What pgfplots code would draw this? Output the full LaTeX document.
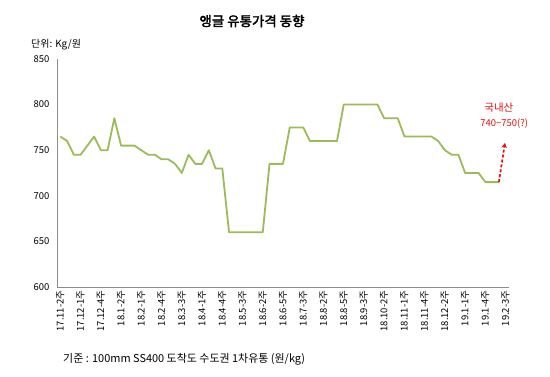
\documentclass[border=0pt]{standalone}
\usepackage{fontspec}
\setmainfont{Noto Sans CJK KR}
\newfontfamily\titlefont{Noto Sans CJK KR}[FakeBold=2.5]
\usepackage{pgfplots}
\pgfplotsset{compat=1.18}
\usepackage{pgfplotstable}
\usetikzlibrary{arrows.meta}
\definecolor{linegreen}{HTML}{9BBB59}
\definecolor{axgray}{HTML}{8C8C8C}
\definecolor{annred}{HTML}{E01010}
\pgfplotstableread{
x y
0 765
1 760
2 745
3 745
4 755
5 765
6 750
7 750
8 785
9 755
10 755
11 755
12 750
13 745
14 745
15 740
16 740
17 735
18 725
19 745
20 735
21 735
22 750
23 730
24 730
25 660
26 660
27 660
28 660
29 660
30 660
31 735
32 735
33 735
34 775
35 775
36 775
37 760
38 760
39 760
40 760
41 760
42 800
43 800
44 800
45 800
46 800
47 800
48 785
49 785
50 785
51 765
52 765
53 765
54 765
55 765
56 760
57 750
58 745
59 745
60 725
61 725
62 725
63 715
64 715
65 715
}\pricedata
\begin{document}
\begin{tikzpicture}[x=1bp,y=1bp]
\useasboundingbox (0,0) rectangle (550,376);
\node[font=\titlefont\fontsize{13.5}{15}\selectfont] at (252,355) {앵글 유통가격 동향};
\node[anchor=west,font=\fontsize{10}{11}\selectfont, inner sep=0pt] at (31,331) {단위: Kg/원};
\node[anchor=west,font=\fontsize{11}{12}\selectfont, inner sep=0pt] at (63,17) {기준 : 100mm SS400 도착도 수도권 1차유통 (원/kg)};
\begin{axis}[
  at={(57bp,89bp)}, anchor=south west,
  scale only axis, width=452bp, height=228bp,
  xmin=-0.5, xmax=66.5, ymin=600, ymax=850,
  axis x line*=bottom, axis y line*=left,
  axis line style={axgray, line width=0.6pt, -},
  major tick length=0pt,
  ytick={600,650,...,850},
  xtick={0,3,...,66},
  xticklabels={17.11-2주,17.12-1주,17.12-4주,18.1-2주,18.2-1주,18.2-4주,18.3-3주,18.4-1주,18.4-4주,18.5-3주,18.6-2주,18.6-5주,18.7-3주,18.8-2주,18.8-5주,18.9-3주,18.10-2주,18.11-1주,18.11-4주,18.12-2주,19.1-1주,19.1-4주,19.2-3주},
  xticklabel style={rotate=90, anchor=east, font=\fontsize{9.5}{10}\selectfont},
  yticklabel style={font=\fontsize{9.5}{10}\selectfont, xshift=-4bp},
  /pgf/number format/assume math mode=true,
  clip=false,
]
\addplot[linegreen, line width=1.8pt, line join=round] table[x=x,y=y] {\pricedata};
\draw[annred, densely dashed, line width=1.7pt, -{Stealth[length=5pt,width=5.5pt]}] (axis cs:65,715) -- (axis cs:65.9,758);
\node[annred, font=\fontsize{10.5}{11}\selectfont] at (axis cs:65,797) {국내산};
\node[annred, font=\fontsize{9.5}{10}\selectfont] at (axis cs:65.8,779) {740\textasciitilde750(?)};
\end{axis}
\end{tikzpicture}
\end{document}
